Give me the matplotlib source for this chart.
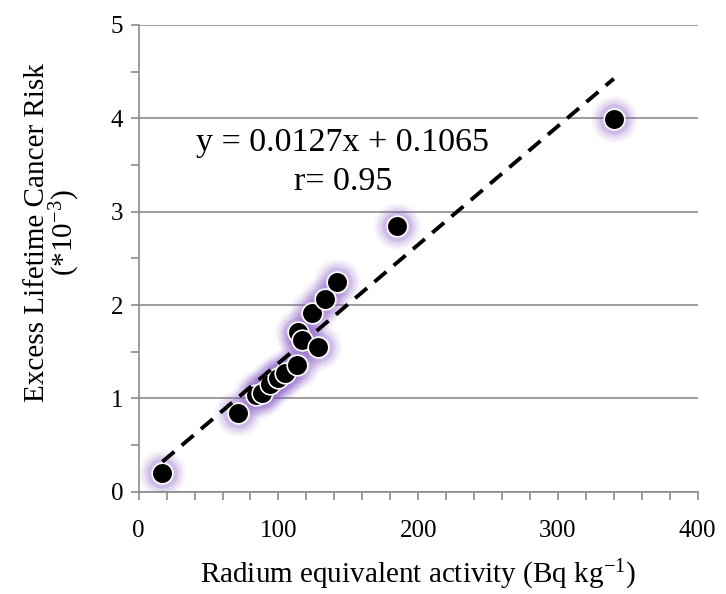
import matplotlib.pyplot as plt
import numpy as np

plt.rcParams['font.family'] = ['Liberation Serif', 'DejaVu Serif']
plt.rcParams['mathtext.default'] = 'regular'

# data
ra_eq = [17, 71, 84, 88, 94, 100, 105, 113, 114, 117, 124, 128, 133, 142, 185, 340]
elcr = [0.20, 0.84, 1.04, 1.06, 1.15, 1.22, 1.27, 1.36, 1.71, 1.63, 1.92, 1.55, 2.07, 2.25, 2.85, 3.99]
slope = 0.0127
intercept = 0.1065
r_value = 0.95

grey = '#8c8c8c'

fig = plt.figure(figsize=(7.26, 5.94), dpi=100, facecolor='w')
ax = fig.add_axes([0.191, 0.172, 0.770, 0.786])

x = np.array(ra_eq)
y = np.array(elcr)

# purple glow behind the points
for s, a in [(1150, 0.06), (900, 0.09), (680, 0.13), (480, 0.2)]:
    ax.scatter(x, y, s=s, c='#8a5cc8', alpha=a, linewidths=0, zorder=2)

ax.scatter(x, y, s=220, c='black', edgecolors='white', linewidths=1.2, zorder=4)

xl = np.array([x.min(), x.max()])
ax.plot(xl, slope * xl + intercept, 'k--', lw=2.8, dashes=(4, 2.5), zorder=5)

ax.text(146, 3.74, 'y = %.4fx + %.4f' % (slope, intercept), ha='center', va='center', fontsize=24.5)
ax.text(146, 3.32, 'r= %.2f' % r_value, ha='center', va='center', fontsize=24.5)

ax.set_xlim(0, 400)
ax.set_ylim(0, 5)
ax.set_xticks(range(0, 401, 100))
ax.set_xticks(range(0, 401, 20), minor=True)
ax.set_yticks(range(0, 6))
ax.set_yticks(np.arange(0, 5.01, 0.5), minor=True)
ax.yaxis.grid(True, color=grey, lw=1.2)
ax.set_axisbelow(True)

for side in ['top', 'right']:
    ax.spines[side].set_visible(False)
for side in ['left', 'bottom']:
    ax.spines[side].set_color(grey)
    ax.spines[side].set_linewidth(1.2)
ax.tick_params(which='both', direction='out', color=grey, width=1.2, length=6, labelsize=18)
ax.tick_params(axis='x', pad=14)
ax.tick_params(axis='y', pad=5)

ax.set_xlabel('Radium equivalent activity (Bq kg$^{-1}$)', fontsize=21, labelpad=12)
ax.set_ylabel('Excess Lifetime Cancer Risk\n(*10$^{-3}$)', fontsize=21, linespacing=0.9)
ax.yaxis.set_label_coords(-0.102, 0.555)

fig.savefig('out.png', dpi=100)
